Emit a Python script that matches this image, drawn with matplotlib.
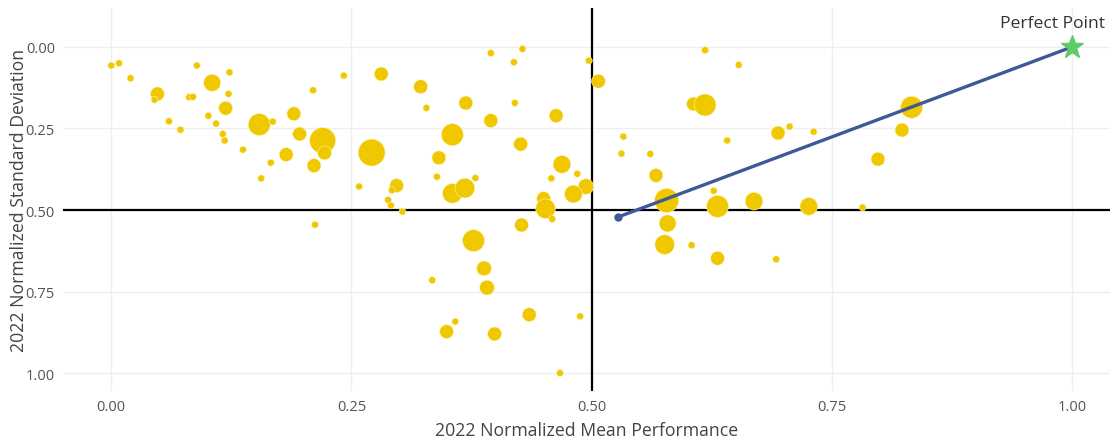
import matplotlib.pyplot as plt

plt.rcParams['font.family'] = ['Open Sans', 'DejaVu Sans']

# bubble data: normalized mean, normalized std, bubble weight
mean_perf = [0.000, 0.008, 0.020, 0.048, 0.045, 0.081, 0.085, 0.089, 0.105, 0.123,
             0.122, 0.119, 0.101, 0.060, 0.072, 0.109, 0.116, 0.118, 0.137, 0.154,
             0.168, 0.156, 0.166, 0.182, 0.190, 0.196, 0.210, 0.211, 0.220, 0.222,
             0.242, 0.258, 0.271, 0.212, 0.281, 0.322, 0.328, 0.369, 0.395, 0.428,
             0.419, 0.420, 0.395, 0.355, 0.463, 0.497, 0.507, 0.426, 0.341, 0.339,
             0.297, 0.292, 0.288, 0.291, 0.303, 0.355, 0.368, 0.379, 0.469, 0.485,
             0.458, 0.494, 0.481, 0.450, 0.452, 0.459, 0.427, 0.377, 0.388, 0.391,
             0.334, 0.435, 0.358, 0.349, 0.399, 0.488, 0.467, 0.618, 0.533, 0.531,
             0.561, 0.567, 0.606, 0.618, 0.641, 0.578, 0.627, 0.631, 0.579, 0.576,
             0.604, 0.631, 0.692, 0.669, 0.726, 0.782, 0.653, 0.694, 0.706, 0.731,
             0.833, 0.823, 0.798]
std_dev = [0.057, 0.050, 0.096, 0.144, 0.162, 0.154, 0.153, 0.057, 0.110, 0.078,
           0.144, 0.188, 0.211, 0.228, 0.254, 0.235, 0.267, 0.287, 0.315, 0.238,
           0.229, 0.403, 0.355, 0.330, 0.205, 0.267, 0.133, 0.364, 0.287, 0.325,
           0.088, 0.428, 0.324, 0.545, 0.083, 0.122, 0.187, 0.172, 0.019, 0.006,
           0.047, 0.172, 0.226, 0.269, 0.211, 0.042, 0.105, 0.298, 0.340, 0.398,
           0.425, 0.439, 0.469, 0.486, 0.505, 0.449, 0.433, 0.402, 0.360, 0.389,
           0.403, 0.428, 0.451, 0.465, 0.496, 0.528, 0.546, 0.594, 0.679, 0.738,
           0.715, 0.821, 0.842, 0.873, 0.880, 0.826, 1.000, 0.010, 0.275, 0.327,
           0.328, 0.394, 0.175, 0.178, 0.287, 0.471, 0.441, 0.489, 0.541, 0.606,
           0.608, 0.648, 0.651, 0.473, 0.489, 0.492, 0.055, 0.264, 0.244, 0.260,
           0.185, 0.255, 0.344]
weight = [1, 1, 1, 4, 1, 1, 1, 1, 6, 1,
          1, 4, 1, 1, 1, 1, 1, 1, 1, 10,
          1, 1, 1, 4, 4, 4, 1, 4, 14, 4,
          1, 1, 15, 1, 4, 4, 1, 4, 1, 1,
          1, 1, 4, 10, 4, 1, 4, 4, 4, 1,
          4, 1, 1, 1, 1, 8, 8, 1, 6.5, 1,
          1, 5, 6.5, 4, 8, 1, 4, 10, 4.5, 4.5,
          1, 4, 1, 4, 4, 1, 1, 1, 1, 1,
          1, 4, 4, 10, 1, 12, 1, 10, 6, 8,
          1, 4, 1, 6.5, 6.5, 1, 1, 4, 1, 1,
          10, 4, 4]

# line to the perfect point
line_x = [0.527, 1.0]
line_y = [0.522, 0.0]

fig = plt.figure(figsize=(11.1, 4.39), dpi=100)
ax = fig.add_axes([0.057, 0.107, 0.943, 0.873])

ax.scatter(mean_perf, std_dev, s=[w * 25 for w in weight], color='#efc800',
           edgecolors='#fff3c0', linewidths=0.4, zorder=3)

ax.axvline(0.5, color='black', lw=1.6, zorder=2)
ax.axhline(0.5, color='black', lw=1.6, zorder=2)

ax.plot(line_x, line_y, color='#3d5a96', lw=2.4, zorder=4)
ax.plot(line_x[0], line_y[0], 'o', color='#3d5a96', ms=5, zorder=4)
ax.plot(line_x[1], line_y[1], '*', color='#5dcd68', ms=17, mec='#5dcd68', zorder=5)
ax.annotate('Perfect Point', xy=(line_x[1], line_y[1]), xytext=(-14, 17),
            textcoords='offset points', ha='center', va='center',
            fontsize=12.6, color='#333333')

ax.set_xlim(-0.05, 1.0395)
ax.set_ylim(1.055, -0.12)
ax.set_xticks([0, 0.25, 0.5, 0.75, 1.0])
ax.set_yticks([0, 0.25, 0.5, 0.75, 1.0])
ax.set_xticklabels(['0.00', '0.25', '0.50', '0.75', '1.00'])
ax.set_yticklabels(['0.00', '0.25', '0.50', '0.75', '1.00'])
ax.tick_params(length=0, labelsize=10.5, labelcolor='#555555', pad=6)
ax.grid(True, color='#eeeeee', lw=1)
ax.set_axisbelow(True)
for s in ax.spines.values():
    s.set_visible(False)

ax.set_xlabel('2022 Normalized Mean Performance', fontsize=12.7, color='#444444', labelpad=5)
ax.set_ylabel('2022 Normalized Standard Deviation', fontsize=12.7, color='#444444', labelpad=-2)

plt.savefig('out.png', dpi=100)
